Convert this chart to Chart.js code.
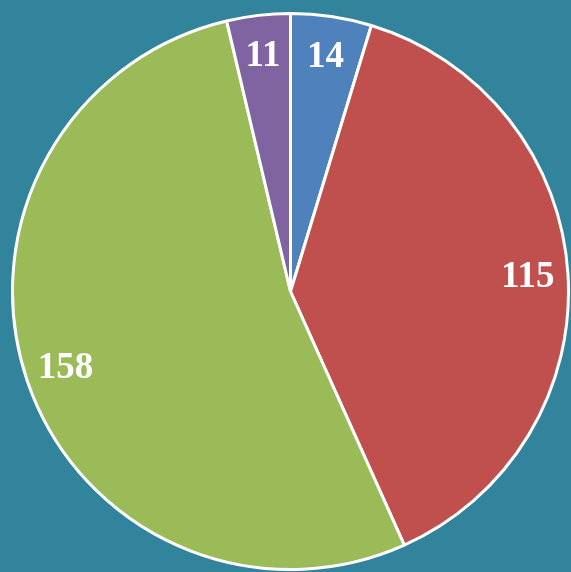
<!DOCTYPE html>
<html>
<head>
<meta charset="utf-8">
<script src="https://cdn.jsdelivr.net/npm/chart.js@4/dist/chart.umd.min.js"></script>
<style>
    body { margin: 0; background: #31849B; }
    #wrap { width: 571px; height: 572px; }
</style>
</head>
<body>
<div id="wrap"><canvas id="pie" width="571" height="572"></canvas></div>
<script>
// Slice data, clockwise from 12 o'clock
const categories = ['A', 'B', 'C', 'D'];
const values = [14, 115, 158, 11];
const sliceColors = ['#4F81BD', '#C0504D', '#9BBB59', '#8064A2'];

// Draw value labels near the outer edge of each slice
const sliceLabels = {
    id: 'sliceLabels',
    afterDatasetsDraw(chart) {
        const ctx = chart.ctx;
        const meta = chart.getDatasetMeta(0);
        ctx.save();
        ctx.fillStyle = '#FFFFFF';
        ctx.font = 'bold 37px "Liberation Serif", "Times New Roman", serif';
        ctx.textAlign = 'center';
        ctx.textBaseline = 'middle';
        meta.data.forEach((arc, i) => {
            const p = arc.getProps(['x', 'y', 'startAngle', 'endAngle', 'outerRadius'], true);
            const mid = (p.startAngle + p.endAngle) / 2;
            const r = p.outerRadius * 0.855;
            ctx.fillText(String(values[i]), p.x + Math.cos(mid) * r, p.y + Math.sin(mid) * r + 1);
        });
        ctx.restore();
    }
};

new Chart(document.getElementById('pie'), {
    type: 'pie',
    data: {
        labels: categories,
        datasets: [{
            data: values,
            backgroundColor: sliceColors,
            borderColor: '#FFFFFF',
            borderWidth: 3
        }]
    },
    options: {
        responsive: false,
        animation: false,
        layout: { padding: { left: 11, right: 1, top: 12, bottom: 1 } },
        plugins: {
            legend: { display: false },
            tooltip: { enabled: false }
        }
    },
    plugins: [sliceLabels]
});
</script>
</body>
</html>
